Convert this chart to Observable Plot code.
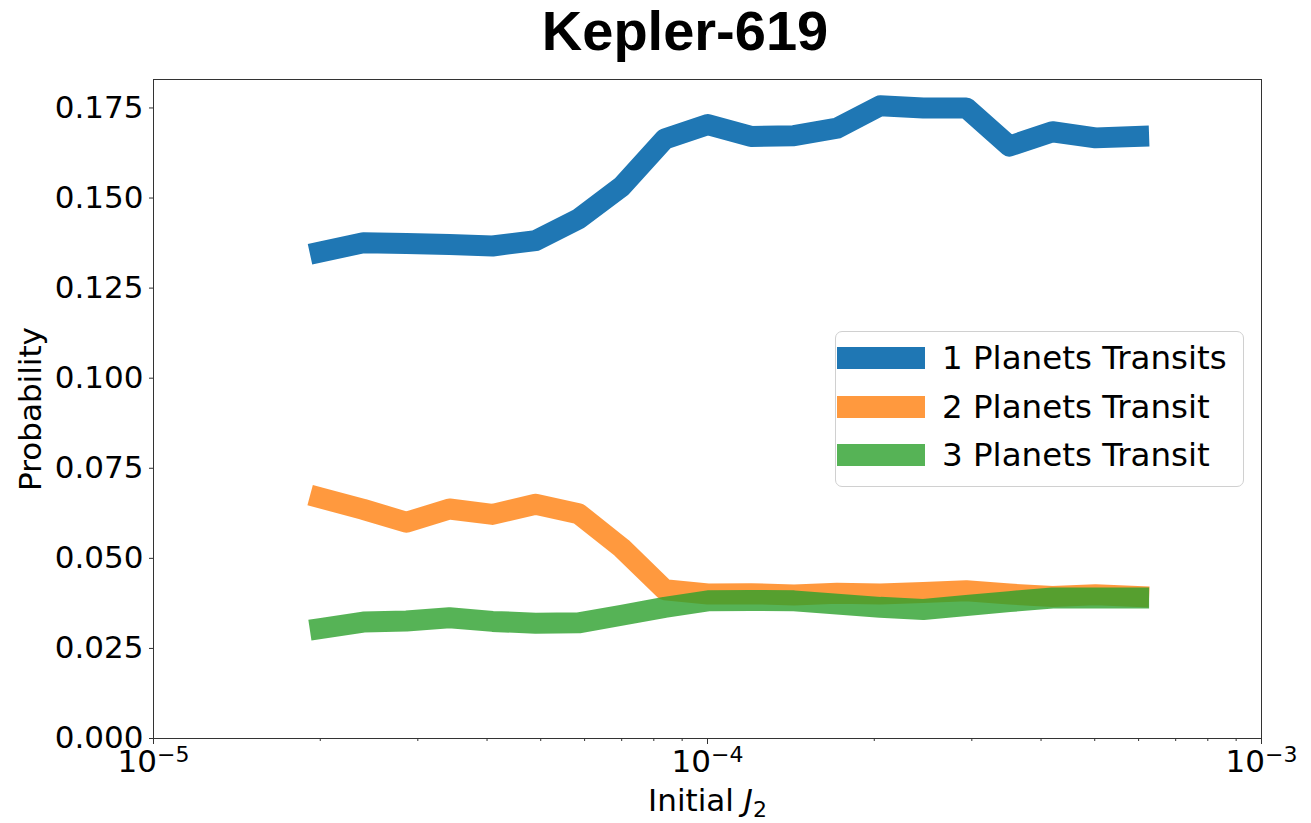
<!DOCTYPE html>
<html><head><meta charset="utf-8">
<script src="https://cdn.jsdelivr.net/npm/d3@7"></script>
<script src="https://cdn.jsdelivr.net/npm/@observablehq/plot@0.6"></script>
<style>
body{margin:0;background:#fff;}
#wrap{position:relative;width:1311px;height:823px;overflow:hidden;font-family:"DejaVu Sans";}
#title{position:absolute;left:0;top:1px;width:1370px;text-align:center;font-family:"Liberation Sans";font-weight:bold;font-size:56px;line-height:60px;color:#000;}
#chart{position:absolute;left:0;top:60px;}
#legend{position:absolute;left:835px;top:331px;width:407px;height:154px;border:1px solid #d0d0d0;border-radius:7px;background:rgba(255,255,255,0.8);}
.sw{position:absolute;left:1px;width:88px;height:22px;}
.lt{position:absolute;left:106px;font-family:"DejaVu Sans";font-size:32.5px;line-height:40px;color:#000;white-space:nowrap;}
</style></head>
<body>
<div id="wrap">
  <div id="title">Kepler-619</div>
  <div id="chart"></div>
  <div id="legend"></div>
</div>
<script>
// Data
const j2 = [2.000e-5, 2.392e-5, 2.861e-5, 3.421e-5, 4.092e-5, 4.894e-5, 5.853e-5, 7.000e-5, 8.372e-5, 1.0017e-4,
            1.198e-4, 1.433e-4, 1.714e-4, 2.050e-4, 2.452e-4, 2.932e-4, 3.507e-4, 4.194e-4, 5.017e-4, 6.000e-4];
const p1 = [0.1350, 0.1376, 0.1374, 0.1371, 0.1367, 0.1382, 0.1442, 0.1532, 0.1664, 0.1704,
            0.1671, 0.1673, 0.1694, 0.1756, 0.1750, 0.1750, 0.1644, 0.1684, 0.1667, 0.1671];
const p2 = [0.0668, 0.0636, 0.0600, 0.0637, 0.0622, 0.0650, 0.0624, 0.0529, 0.0413, 0.0401,
            0.0402, 0.0398, 0.0403, 0.0401, 0.0405, 0.0410, 0.0401, 0.0394, 0.0399, 0.0394];
const p3 = [0.0305, 0.0323, 0.0326, 0.0335, 0.0325, 0.0320, 0.0321, 0.0342, 0.0364, 0.0382,
            0.0383, 0.0382, 0.0373, 0.0364, 0.0358, 0.0369, 0.0380, 0.0390, 0.0390, 0.0390];
const seriesNames = ["1 Planets Transits", "2 Planets Transit", "3 Planets Transit"];
const seriesColors = ["#1f77b4", "#ff7f0e", "#2ca02c"];
const seriesOpacity = [1, 0.8, 0.8];
const xTicks = [1e-5, 1e-4, 1e-3];
const xTickLabels = ["10^\u22125", "10^\u22124", "10^\u22123"];
const yTicks = [0, 0.025, 0.05, 0.075, 0.1, 0.125, 0.15, 0.175];
const yTickLabels = ["0.000", "0.025", "0.050", "0.075", "0.100", "0.125", "0.150", "0.175"];
const xMinorTicks = [2e-5,3e-5,4e-5,5e-5,6e-5,7e-5,8e-5,9e-5,2e-4,3e-4,4e-4,5e-4,6e-4,7e-4,8e-4,9e-4];

const series = [p1, p2, p3];
const rows = [];
series.forEach((vals, i) => vals.forEach((v, k) => rows.push({series: seriesNames[i], x: j2[k], y: v})));

const chart = Plot.plot({
  width: 1311, height: 763,
  marginTop: 19, marginBottom: 85, marginLeft: 153, marginRight: 50,
  style: {fontFamily: "DejaVu Sans", fontSize: "31px", color: "#000", background: "transparent", overflow: "visible"},
  x: {type: "log", domain: [1e-5, 1e-3]},
  y: {domain: [0, 0.1829]},
  marks: [
    ...seriesNames.map((s, i) => Plot.line(rows.filter(r => r.series === s), {
      x: "x", y: "y", stroke: seriesColors[i], strokeOpacity: seriesOpacity[i],
      strokeWidth: 21, strokeLinecap: "square", strokeLinejoin: "round"
    })),
    Plot.frame({stroke: "#333", strokeWidth: 1}),
    Plot.axisX({ticks: xMinorTicks, tickSize: 3, tickFormat: () => "", label: null, stroke: "#333"}),
    Plot.axisX({ticks: xTicks, tickSize: 6, tickPadding: 5, stroke: "#333",
      tickFormat: d => xTickLabels[xTicks.indexOf(d)],
      label: "Initial J2", labelAnchor: "center", labelOffset: 72}),
    Plot.axisY({ticks: yTicks, tickSize: 4, tickPadding: 6, stroke: "#333",
      tickFormat: d => yTickLabels[yTicks.indexOf(d)],
      label: "Probability", labelAnchor: "center", labelOffset: 135})
  ]
});

// superscript exponents on x tick labels
d3.select(chart).selectAll('g[aria-label="x-axis tick label"] text').each(function() {
  const t = this.textContent;
  const parts = t.split("^");
  if (parts.length < 2) return;
  this.textContent = "";
  d3.select(this).append("tspan").text(parts[0]);
  d3.select(this).append("tspan").attr("dy", "-0.45em").attr("font-size", "22px").text(parts[1]);
});
// x label with italic J and subscript 2
d3.select(chart).selectAll('g[aria-label="x-axis label"] text').each(function() {
  this.textContent = "";
  const s = d3.select(this);
  s.append("tspan").text("Initial ");
  s.append("tspan").attr("font-style", "italic").text("J");
  s.append("tspan").attr("dy", "0.3em").attr("font-size", "22px").text("2");
});
d3.select(chart).selectAll('g[aria-label="y-axis label"] text').each(function() {
  this.textContent = "Probability";
});

document.getElementById("chart").appendChild(chart);

// legend
const legend = d3.select("#legend");
const rowCenters = [26, 75, 123];
seriesNames.forEach((s, i) => {
  legend.append("div").attr("class", "sw")
    .style("top", (rowCenters[i] - 11) + "px")
    .style("background", seriesColors[i]).style("opacity", seriesOpacity[i]);
  legend.append("div").attr("class", "lt")
    .style("top", (rowCenters[i] - 20) + "px").text(s);
});
</script>
</body></html>
